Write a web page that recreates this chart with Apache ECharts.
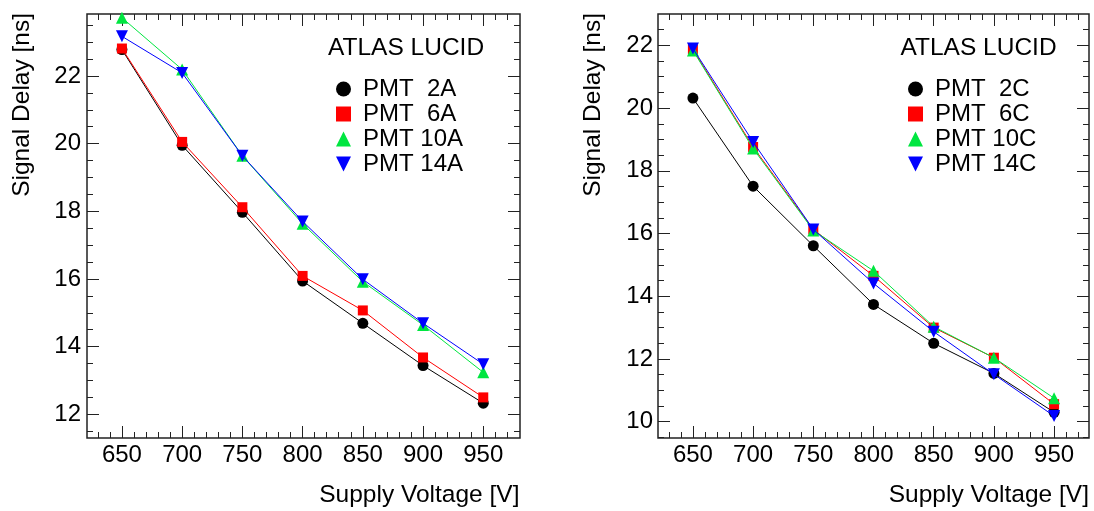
<!DOCTYPE html>
<html><head><meta charset="utf-8">
<script src="https://cdn.jsdelivr.net/npm/echarts@6/dist/echarts.min.js"></script>
<style>html,body{margin:0;padding:0;background:#fff}#c{width:1094px;height:511px}</style>
</head><body><div id="c"></div>
<script>
// ---- data ----
const voltages = [650, 700, 750, 800, 850, 900, 950];
const pmt2A  = [22.78, 19.95, 17.97, 15.94, 14.69, 13.44, 12.33];
const pmt6A  = [22.81, 20.05, 18.12, 16.09, 15.07, 13.68, 12.50];
const pmt10A = [23.72, 22.19, 19.64, 17.63, 15.92, 14.64, 13.24];
const pmt14A = [23.17, 22.09, 19.64, 17.70, 15.99, 14.69, 13.48];
const pmt2C  = [20.32, 17.51, 15.61, 13.74, 12.50, 11.54, 10.30];
const pmt6C  = [21.87, 18.76, 16.13, 14.65, 13.00, 12.04, 10.56];
const pmt10C = [21.84, 18.71, 16.10, 14.81, 13.03, 12.04, 10.75];
const pmt14C = [21.90, 18.92, 16.13, 14.41, 12.87, 11.51, 10.18];
const namesA = ['PMT  2A', 'PMT  6A', 'PMT 10A', 'PMT 14A'];
const namesC = ['PMT  2C', 'PMT  6C', 'PMT 10C', 'PMT 14C'];
const xMajorTicks = [650, 700, 750, 800, 850, 900, 950];
const xMinorTicks = [630, 640, 660, 670, 680, 690, 710, 720, 730, 740, 760, 770, 780, 790, 810, 820, 830, 840, 860, 870, 880, 890, 910, 920, 930, 940, 960, 970];
const yMajorTicksA = [12, 14, 16, 18, 20, 22];
const yMinorTicksA = [11.5, 12.5, 13, 13.5, 14.5, 15, 15.5, 16.5, 17, 17.5, 18.5, 19, 19.5, 20.5, 21, 21.5, 22.5, 23, 23.5];
const yMajorTicksC = [10, 12, 14, 16, 18, 20, 22];
const yMinorTicksC = [9.5, 10.5, 11, 11.5, 12.5, 13, 13.5, 14.5, 15, 15.5, 16.5, 17, 17.5, 18.5, 19, 19.5, 20.5, 21, 21.5, 22.5];
const xTitle = 'Supply Voltage [V]';
const yTitle = 'Signal Delay [ns]';
const header = 'ATLAS LUCID';

// ---- styling ----
const FONT = '"Liberation Sans", Arial, Helvetica, sans-serif';
const colors = ['#000000', '#ff0000', '#00e640', '#0000ff'];
const symbols = ['circle', 'rect', 'triangle', 'triangle'];
const rotates = [0, 0, 0, 180];
const sizes = [11, 10, 12, 12];
const legendIcons = ['circle', 'rect', 'triangle', 'path://M0,0L2,0L1,2Z'];
const tickColor = '#222';
const TITLE_FONT = '24.5px ' + FONT;

function axesFor(dim, gi, min, max, majors, minors, posA, posB, labelMargin) {
  const base = {type: 'value', gridIndex: gi, min: min, max: max,
    axisLine: {show: false}, splitLine: {show: false}};
  const tick = (vals, len) => ({show: true, inside: true, length: len, customValues: vals,
    lineStyle: {color: tickColor, width: 1}});
  return [
    Object.assign({}, base, {position: posA, axisTick: tick(majors, 12),
      axisLabel: {show: true, customValues: majors, margin: labelMargin, fontSize: 24,
        fontFamily: FONT, color: '#000'}}),
    Object.assign({}, base, {position: posA, axisTick: tick(minors, 6), axisLabel: {show: false}}),
    Object.assign({}, base, {position: posB, axisTick: tick(majors, 12), axisLabel: {show: false}}),
    Object.assign({}, base, {position: posB, axisTick: tick(minors, 6), axisLabel: {show: false}})
  ];
}

function seriesFor(names, arrays, axisIdx) {
  return names.map((n, k) => ({
    name: n, type: 'line', xAxisIndex: axisIdx, yAxisIndex: axisIdx,
    data: voltages.map((v, i) => [v, arrays[k][i]]),
    symbol: symbols[k], symbolRotate: rotates[k], symbolSize: sizes[k], showAllSymbol: true,
    itemStyle: {color: colors[k]}, lineStyle: {color: colors[k], width: 1},
    z: 2 + k, animation: false
  }));
}

function legendFor(names, left) {
  return {
    orient: 'vertical', left: left, top: 72, itemWidth: 15, itemHeight: 15, itemGap: 1,
    selectedMode: false,
    textStyle: {fontSize: 24, fontFamily: FONT, color: '#000', padding: [0, 0, 0, 7]},
    data: names.map((n, k) => ({name: n, icon: legendIcons[k], itemStyle: {color: colors[k]}}))
  };
}

const grids = [
  {left: 87, top: 14, width: 433, height: 424},
  {left: 658, top: 14, width: 431, height: 424}
];

const option = {
  animation: false,
  backgroundColor: '#fff',
  grid: grids.map(g => Object.assign({show: true, borderColor: '#222', borderWidth: 1.5,
    backgroundColor: 'transparent', containLabel: false}, g)),
  xAxis: [].concat(
    axesFor('x', 0, 621, 980.5, xMajorTicks, xMinorTicks, 'bottom', 'top', 5),
    axesFor('x', 1, 621, 979, xMajorTicks, xMinorTicks, 'bottom', 'top', 5)
  ),
  yAxis: [].concat(
    axesFor('y', 0, 11.3, 23.83, yMajorTicksA, yMinorTicksA, 'left', 'right', 6),
    axesFor('y', 1, 9.48, 23.0, yMajorTicksC, yMinorTicksC, 'left', 'right', 5)
  ),
  legend: [legendFor(namesA, 331), legendFor(namesC, 903)],
  series: [].concat(
    seriesFor(namesA, [pmt2A, pmt6A, pmt10A, pmt14A], 0),
    seriesFor(namesC, [pmt2C, pmt6C, pmt10C, pmt14C], 4)
  ),
  graphic: [
    {type: 'text', x: 328, y: 48, style: {text: header, font: TITLE_FONT, fill: '#000', align: 'left', verticalAlign: 'middle'}},
    {type: 'text', x: 900.5, y: 48, style: {text: header, font: TITLE_FONT, fill: '#000', align: 'left', verticalAlign: 'middle'}},
    {type: 'text', x: 519.5, y: 495.5, style: {text: xTitle, font: TITLE_FONT, fill: '#000', align: 'right', verticalAlign: 'middle'}},
    {type: 'text', x: 1089, y: 495.5, style: {text: xTitle, font: TITLE_FONT, fill: '#000', align: 'right', verticalAlign: 'middle'}},
    {type: 'text', x: 22, y: 13, rotation: Math.PI / 2, style: {text: yTitle, font: TITLE_FONT, fill: '#000', align: 'right', verticalAlign: 'middle'}},
    {type: 'text', x: 593, y: 13, rotation: Math.PI / 2, style: {text: yTitle, font: TITLE_FONT, fill: '#000', align: 'right', verticalAlign: 'middle'}}
  ]
};

const chart = echarts.init(document.getElementById('c'), null, {renderer: 'canvas'});
chart.setOption(option);
</script>
</body></html>
